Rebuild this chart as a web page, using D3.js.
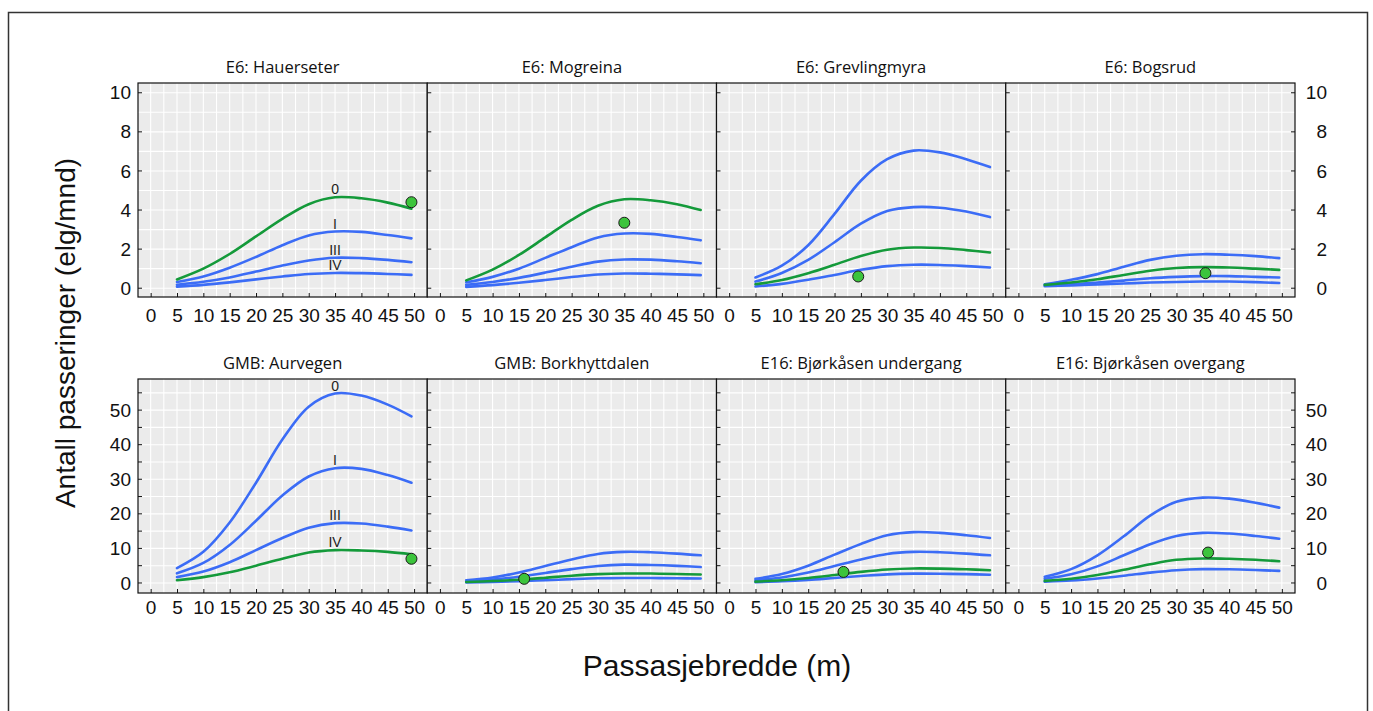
<!DOCTYPE html>
<html>
<head>
<meta charset="utf-8">
<script src="https://cdn.jsdelivr.net/npm/d3@7"></script>
<style>
  body { margin: 0; background: #fff; }
  svg { display: block; }
</style>
</head>
<body>
<svg id="chart" width="1373" height="711"></svg>
<script>
// Passage width (m) at which each predicted curve is evaluated
const widths = [5, 10, 15, 20, 25, 30, 35, 40, 45, 49.5];

// Site panels, in reading order
const siteNames = [
  "E6: Hauerseter", "E6: Mogreina", "E6: Grevlingmyra", "E6: Bogsrud",
  "GMB: Aurvegen", "GMB: Borkhyttdalen", "E16: Bjørkåsen undergang", "E16: Bjørkåsen overgang"
];

// Disturbance classes, one predicted curve each
const classLabels = ["0", "I", "III", "IV"];

// Predicted passings (moose/month) per class: 0, I, III, IV
const hauerseter = [
  [0.45, 1.0, 1.75, 2.65, 3.55, 4.3, 4.65, 4.6, 4.38, 4.07],
  [0.32, 0.6, 1.05, 1.6, 2.2, 2.7, 2.9, 2.88, 2.72, 2.55],
  [0.18, 0.33, 0.55, 0.85, 1.16, 1.42, 1.56, 1.54, 1.45, 1.33],
  [0.08, 0.17, 0.3, 0.45, 0.6, 0.73, 0.78, 0.77, 0.73, 0.68]
];
const mogreina = [
  [0.4, 0.95, 1.7, 2.6, 3.5, 4.22, 4.55, 4.5, 4.3, 4.0],
  [0.3, 0.58, 1.0, 1.55, 2.1, 2.6, 2.8, 2.78, 2.62, 2.45],
  [0.17, 0.32, 0.53, 0.8, 1.1, 1.36, 1.47, 1.46, 1.38, 1.28],
  [0.07, 0.16, 0.28, 0.42, 0.57, 0.7, 0.75, 0.74, 0.71, 0.67]
];
const grevlingmyra = [
  [0.55, 1.15, 2.2, 3.8, 5.5, 6.6, 7.04, 6.95, 6.6, 6.2],
  [0.34, 0.78, 1.45, 2.35, 3.3, 3.95, 4.15, 4.12, 3.92, 3.64],
  [0.2, 0.42, 0.77, 1.2, 1.65, 1.97, 2.08, 2.06, 1.95, 1.83],
  [0.09, 0.22, 0.43, 0.68, 0.94, 1.13, 1.2, 1.19, 1.13, 1.06]
];
const bogsrud = [
  [0.2, 0.43, 0.72, 1.1, 1.45, 1.66, 1.74, 1.71, 1.64, 1.54],
  [0.17, 0.29, 0.46, 0.68, 0.89, 1.03, 1.08, 1.06, 1.0, 0.94],
  [0.14, 0.2, 0.29, 0.39, 0.51, 0.58, 0.62, 0.62, 0.58, 0.55],
  [0.1, 0.14, 0.19, 0.24, 0.29, 0.32, 0.34, 0.34, 0.31, 0.27]
];
const aurvegen = [
  [4.3, 9.0, 17.5, 29, 41.5, 51, 54.8, 54.2, 51.6, 48.2],
  [2.8, 5.8, 11, 18, 25.3, 30.8, 33.2, 33.0, 31.2, 29],
  [1.7, 3.3, 6, 9.5, 13, 16, 17.3, 17.2, 16.3, 15.2],
  [0.8, 1.7, 3.1, 5, 7, 8.8, 9.5, 9.4, 9.0, 8.3]
];
const borkhyttdalen = [
  [0.8, 1.6, 3.0, 4.9, 6.8, 8.4, 9.0, 8.9, 8.5, 8.0],
  [0.5, 1.0, 1.8, 2.9, 4.0, 4.9, 5.3, 5.2, 4.95, 4.6],
  [0.3, 0.55, 0.95, 1.5, 2.1, 2.55, 2.75, 2.72, 2.6, 2.45],
  [0.15, 0.3, 0.5, 0.8, 1.1, 1.35, 1.45, 1.43, 1.37, 1.3]
];
const bjorkasenUnder = [
  [1.2, 2.6, 5.0, 8.2, 11.3, 13.8, 14.7, 14.5, 13.8, 13.0],
  [0.8, 1.6, 3.0, 4.9, 6.8, 8.4, 9.0, 8.9, 8.5, 8.0],
  [0.4, 0.8, 1.45, 2.3, 3.2, 3.9, 4.2, 4.15, 3.95, 3.7],
  [0.25, 0.5, 0.9, 1.45, 2.0, 2.5, 2.7, 2.68, 2.55, 2.4]
];
const bjorkasenOver = [
  [1.8, 4.0, 8.0, 13.5, 19.5, 23.5, 24.7, 24.4, 23.2, 21.8],
  [1.2, 2.5, 4.8, 8.0, 11.2, 13.6, 14.5, 14.3, 13.6, 12.8],
  [0.6, 1.2, 2.3, 3.8, 5.4, 6.7, 7.1, 7.0, 6.7, 6.3],
  [0.4, 0.7, 1.3, 2.1, 3.0, 3.7, 4.0, 3.95, 3.75, 3.5]
];
const siteCurves = [hauerseter, mogreina, grevlingmyra, bogsrud,
                    aurvegen, borkhyttdalen, bjorkasenUnder, bjorkasenOver];

// Index of the class that applies at each site (drawn in green)
const siteClass = [0, 0, 2, 1, 3, 2, 2, 2];

// Observed passage width and passings per site
const obsWidth = [49.5, 35, 24.5, 35.5, 49.5, 16, 21.7, 36];
const obsCount = [4.4, 3.35, 0.6, 0.77, 7.0, 1.2, 3.2, 8.8];

// Sites that carry class labels on their curves
const labelledSites = [0, 4];

// Axis ticks
const xTicks = d3.range(0, 51, 5);
const xGrid = d3.range(0, 50.1, 2.5);
const topYTicks = [0, 2, 4, 6, 8, 10];
const topYGrid = d3.range(0, 11, 1);
const bottomYTicks = [0, 10, 20, 30, 40, 50];
const bottomYMinor = d3.range(0, 56, 5);

// ---------------- layout ----------------
const svg = d3.select("#chart");
const left = 138, panelW = 289.25, panelH = 214;
const rowTop = [83, 379];
const blue = "#3b6cf6", green = "#149a3a";
const tickFont = "'Liberation Sans', Arial, sans-serif";
const titleFont = "'Open Sans', 'Noto Sans', sans-serif";

// outer frame
svg.append("rect")
  .attr("x", 8.5).attr("y", 12.5).attr("width", 1359).attr("height", 720)
  .attr("fill", "none").attr("stroke", "#333").attr("stroke-width", 1.5);

const x = d3.scaleLinear().domain([-2.4, 52.5]).range([0, panelW]);
const yTop = d3.scaleLinear().domain([-0.45, 10.5]).range([panelH, 0]);
const yBottom = d3.scaleLinear().domain([-2.9, 59]).range([panelH, 0]);

const line = d3.line().curve(d3.curveCatmullRom.alpha(0.5));

siteNames.forEach((name, i) => {
  const row = Math.floor(i / 4), col = i % 4;
  const y = row === 0 ? yTop : yBottom;
  const yGrid = row === 0 ? topYGrid : bottomYMinor;
  const yTicks = row === 0 ? topYTicks : bottomYTicks;
  const yTickMarks = row === 0 ? topYTicks : bottomYMinor;
  const g = svg.append("g")
    .attr("transform", `translate(${left + col * panelW},${rowTop[row]})`);

  const clipId = "clip" + i;
  g.append("clipPath").attr("id", clipId)
    .append("rect").attr("width", panelW).attr("height", panelH);

  g.append("rect").attr("width", panelW).attr("height", panelH).attr("fill", "#ebebeb");

  // white grid
  g.append("g").selectAll("line").data(xGrid).join("line")
    .attr("x1", d => x(d)).attr("x2", d => x(d))
    .attr("y1", 0).attr("y2", panelH)
    .attr("stroke", "#fff").attr("stroke-width", 1.1);
  g.append("g").selectAll("line").data(yGrid).join("line")
    .attr("x1", 0).attr("x2", panelW)
    .attr("y1", d => y(d)).attr("y2", d => y(d))
    .attr("stroke", "#fff").attr("stroke-width", 1.1);

  // predicted curves: blue first, the site's own class on top in green
  const curves = siteCurves[i];
  const order = [0, 1, 2, 3].filter(k => k !== siteClass[i]).concat([siteClass[i]]);
  const cg = g.append("g").attr("clip-path", `url(#${clipId})`);
  order.forEach(k => {
    const pts = widths.map((w, j) => [x(w), y(curves[k][j])]);
    cg.append("path")
      .attr("d", line(pts))
      .attr("fill", "none")
      .attr("stroke", k === siteClass[i] ? green : blue)
      .attr("stroke-width", 2.6)
      .attr("stroke-linecap", "round");
  });

  // class labels at 35 m
  if (labelledSites.includes(i)) {
    const j = widths.indexOf(35);
    curves.forEach((c, k) => {
      g.append("text")
        .attr("x", x(35)).attr("y", y(c[j]) - 3)
        .attr("text-anchor", "middle")
        .attr("font-family", tickFont).attr("font-size", 14)
        .attr("fill", "#222")
        .text(classLabels[k]);
    });
  }

  // observed value
  g.append("circle")
    .attr("cx", x(obsWidth[i])).attr("cy", y(obsCount[i])).attr("r", 5.5)
    .attr("fill", "#3cc43c").attr("stroke", "#1a1a1a").attr("stroke-width", 1);

  // panel border
  g.append("rect").attr("width", panelW).attr("height", panelH)
    .attr("fill", "none").attr("stroke", "#111").attr("stroke-width", 1.2);

  // x axis with inward ticks
  const xa = g.append("g").attr("transform", `translate(0,${panelH})`)
    .call(d3.axisBottom(x).tickValues(xTicks).tickSizeInner(-4).tickSizeOuter(0)
      .tickPadding(row === 0 ? 12 : 8).tickFormat(d3.format("d")));
  xa.select(".domain").remove();
  xa.selectAll("line").attr("stroke", "#111");
  xa.selectAll("text").attr("font-family", tickFont).attr("font-size", 19).attr("fill", "#111");

  // inward tick marks on the left edge of every panel
  g.append("g").selectAll("line").data(yTickMarks).join("line")
    .attr("x1", 0).attr("x2", 4)
    .attr("y1", d => y(d)).attr("y2", d => y(d))
    .attr("stroke", "#111");

  if (col === 0) {
    const ya = g.append("g")
      .call(d3.axisLeft(y).tickValues(yTicks).tickSize(0).tickPadding(7));
    ya.select(".domain").remove();
    ya.selectAll("text").attr("font-family", tickFont).attr("font-size", 19).attr("fill", "#111");
  }
  if (col === 3) {
    g.append("g").selectAll("line").data(yTickMarks).join("line")
      .attr("x1", panelW - 4).attr("x2", panelW)
      .attr("y1", d => y(d)).attr("y2", d => y(d))
      .attr("stroke", "#111");
    const ya = g.append("g").attr("transform", `translate(${panelW},0)`)
      .call(d3.axisRight(y).tickValues(yTicks).tickSize(0).tickPadding(32));
    ya.select(".domain").remove();
    ya.selectAll("text").attr("text-anchor", "end")
      .attr("font-family", tickFont).attr("font-size", 19).attr("fill", "#111");
  }

  // panel title
  g.append("text")
    .attr("x", panelW / 2).attr("y", -10)
    .attr("text-anchor", "middle")
    .attr("font-family", titleFont).attr("font-size", 16.5)
    .attr("fill", "#111")
    .text(name);
});

// axis titles
svg.append("text")
  .attr("transform", "translate(75,333) rotate(-90)")
  .attr("text-anchor", "middle")
  .attr("font-family", tickFont).attr("font-size", 28).attr("fill", "#111")
  .text("Antall passeringer (elg/mnd)");
svg.append("text")
  .attr("x", 717).attr("y", 676)
  .attr("text-anchor", "middle")
  .attr("font-family", tickFont).attr("font-size", 30).attr("fill", "#111")
  .text("Passasjebredde (m)");
</script>
</body>
</html>
